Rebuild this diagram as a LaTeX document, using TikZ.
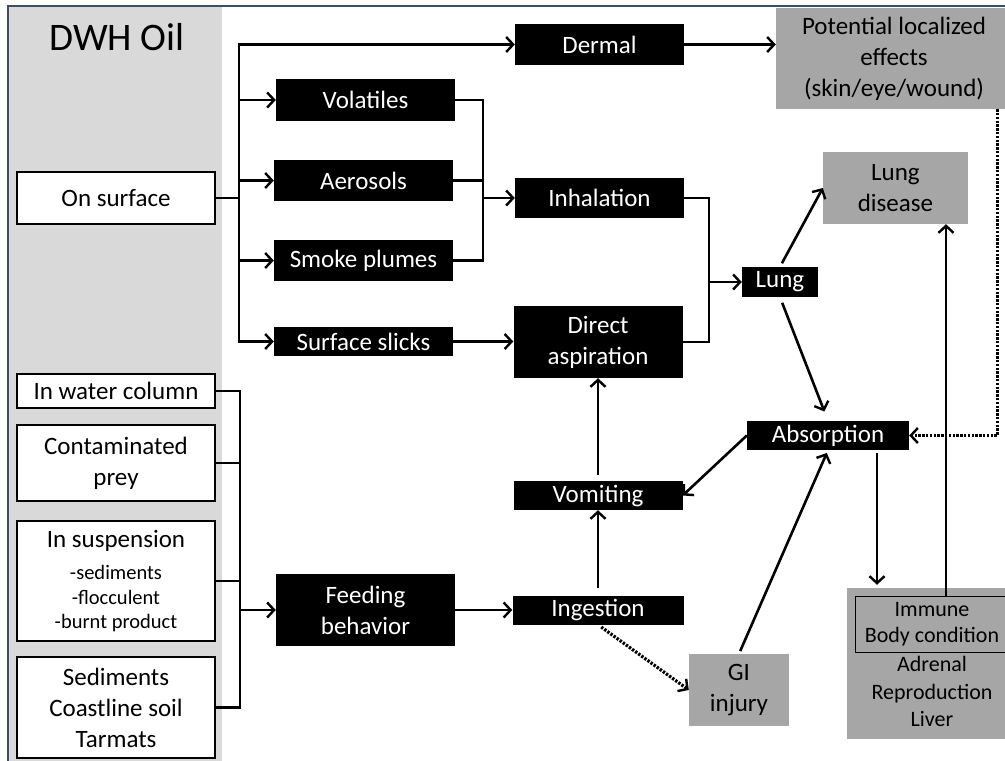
\documentclass[tikz,border=0pt]{standalone}
\usepackage{fontspec}
\setmainfont{Carlito}
\usetikzlibrary{positioning,calc,arrows.meta}
\definecolor{panelgray}{HTML}{D9D9D9}
\definecolor{effectgray}{HTML}{A6A6A6}
\definecolor{framecol}{HTML}{3B4E66}
\tikzset{font=\fontsize{25}{31}\selectfont}
\newcommand{\susptext}[1]{{\fontsize{20.5}{24}\selectfont #1}}

\begin{document}
\begin{tikzpicture}[x=1pt, y=-1pt,
	srcbox/.style={draw=black, line width=2.8pt, fill=white, align=center, inner sep=0pt},
	pathbox/.style={fill=black, text=white, align=center, inner sep=0pt},
	effectbox/.style={fill=effectgray, align=center, inner sep=0pt},
	plain/.style={line width=2.6pt},
	link/.style={line width=2.6pt, -{Straight Barb[length=7pt,width=15pt,line width=2.4pt]}},
	dotlink/.style={line width=3.2pt, dash pattern=on 2.4pt off 1.4pt, -{Straight Barb[length=7pt,width=15pt,line width=2.4pt]}}]
	\useasboundingbox (0,0) rectangle (1005,761);
	\fill[panelgray] (8,6) rectangle (222,780);

	% exposure sources
	\node (title) at (117,37) {\fontsize{39}{44}\selectfont DWH Oil};
	\node[srcbox, minimum width=198pt, minimum height=52pt] (surface) at (116,198) {On surface};
	\node[srcbox, minimum width=198pt, minimum height=34pt] (water) at (116,391) {In water column};
	\node[srcbox, minimum width=198pt, minimum height=76pt] (prey) at (116,463) {Contaminated\\prey};
	\node[srcbox, minimum width=198pt, minimum height=120pt] (suspension) at (116,581) {In suspension\\[1pt]\susptext{-sediments}\\[-6pt]\susptext{-flocculent}\\[-7pt]\susptext{-burnt product}};
	\node[srcbox, minimum width=198pt, minimum height=101pt] (sediments) at (116,707.5) {Sediments\\Coastline soil\\Tarmats};

	% routes
	\node[pathbox, minimum width=179pt, minimum height=42pt] (volatiles) at (365.5,100) {Volatiles};
	\node[pathbox, minimum width=179pt, minimum height=41pt] (aerosols) at (363.5,180.5) {Aerosols};
	\node[pathbox, minimum width=179pt, minimum height=41pt] (smoke) at (363.5,260.5) {Smoke plumes};
	\node[pathbox, minimum width=179pt, minimum height=29pt] (slicks) at (363.5,341.5) {Surface slicks};
	\node[pathbox, minimum width=179pt, minimum height=72pt] (feeding) at (365.5,610) {Feeding\\behavior};
	\node[pathbox, minimum width=169pt, minimum height=41pt] (dermal) at (599.5,44.5) {Dermal};
	\node[pathbox, minimum width=169pt, minimum height=40pt] (inhalation) at (599.5,198) {Inhalation};
	\node[pathbox, minimum width=169pt, minimum height=72pt] (aspiration) at (598,342) {Direct\\aspiration};
	\node[pathbox, minimum width=169pt, minimum height=29pt] (vomiting) at (598,495.5) {Vomiting};
	\node[pathbox, minimum width=171pt, minimum height=29pt] (ingestion) at (598,610) {Ingestion};
	\node[pathbox, minimum width=76pt, minimum height=30pt] (lung) at (780,282) {Lung};
	\node[pathbox, minimum width=162pt, minimum height=29pt] (absorption) at (828,435.5) {Absorption};

	% effects
	\node[effectbox, minimum width=236pt, minimum height=101pt] (potential) at (894,58.5) {Potential localized\\effects\\(skin/eye/wound)};
	\node[effectbox, minimum width=145pt, minimum height=72pt] (disease) at (895.5,188) {Lung\\disease};
	\node[effectbox, minimum width=100pt, minimum height=72pt] (gi) at (739,690) {GI\\injury};
	\node[effectbox, minimum width=170pt, minimum height=151pt] (organs) at (932,663.5) {};
	\node[draw=black, line width=0.8pt, minimum width=154pt, minimum height=56pt, inner sep=0pt, align=center,
		font=\fontsize{22}{26}\selectfont] (immbody) at (932,624) {Immune\\Body condition};
	\node[align=center, inner sep=0pt, font=\fontsize{22}{27.5}\selectfont] (organlist) at (932,691.5) {Adrenal\\Reproduction\\Liver};

	% on surface branches
	\coordinate (fork) at (239,198);
	\draw[plain] (surface.east) -- (fork);
	\draw[link] (fork) |- (dermal.west);
	\draw[link] (fork) |- (volatiles.west);
	\draw[link] (fork) |- (aerosols.west);
	\draw[link] (fork) |- (smoke.west);
	\draw[link] (fork) |- (slicks.west);

	% air merge
	\coordinate (airjoin) at (483,198);
	\draw[plain] (volatiles.east) -| (airjoin);
	\draw[plain] (aerosols.east) -| (airjoin);
	\draw[plain] (smoke.east) -| (airjoin);
	\draw[link] (airjoin) -- (inhalation.west);
	\draw[link] (slicks.east) -- (slicks.east -| aspiration.west);
	\draw[link] (dermal.east) -- (dermal.east -| potential.west);

	% lung merge
	\coordinate (lungjoin) at (709,282);
	\draw[plain] (inhalation.east) -| (lungjoin);
	\draw[plain] (aspiration.east) -| (lungjoin);
	\draw[link] (lungjoin) -- (lung.west);

	% water side merge
	\coordinate (feedjoin) at (240,610);
	\draw[plain] (water.east) -| (feedjoin);
	\draw[plain] (prey.east) -| (feedjoin);
	\draw[plain] (suspension.east) -| (feedjoin);
	\draw[plain] (sediments.east) -| (feedjoin);
	\draw[link] (feedjoin) -- (feeding.west);
	\draw[link] (feeding.east) -- (ingestion.west);

	% internal paths
	\draw[link, shorten <=7pt] (ingestion.north) -- (vomiting.south);
	\draw[link, shorten <=6pt] (vomiting.north) -- (aspiration.south);
	\draw[link, shorten <=4pt] (lung.north) -- (disease.west);
	\draw[link, shorten <=6pt, shorten >=10pt] (lung.south) -- (absorption.north);
	\draw[link] (absorption.west) -- (vomiting.east);
	\draw[link, shorten <=3pt, shorten >=3pt] (gi.north) -- (absorption.south);
	\draw[link, shorten <=3pt, shorten >=3pt] ($(absorption.south)+(49,0)$) -- ($(organs.north)+(-55,0)$);
	\draw[link] ($(immbody.north)+(14,0)$) -- ($(disease.south)+(50.5,0)$);
	\draw[dotlink, shorten <=4pt] (ingestion.south) -- (gi.west);
	\draw[dotlink] ($(potential.south east)+(-15,0)$) |- (absorption.east);

	% frame
	\draw[framecol, line width=2pt] (8,790) -- (8,6) -- (1030,6);
\end{tikzpicture}
\end{document}
